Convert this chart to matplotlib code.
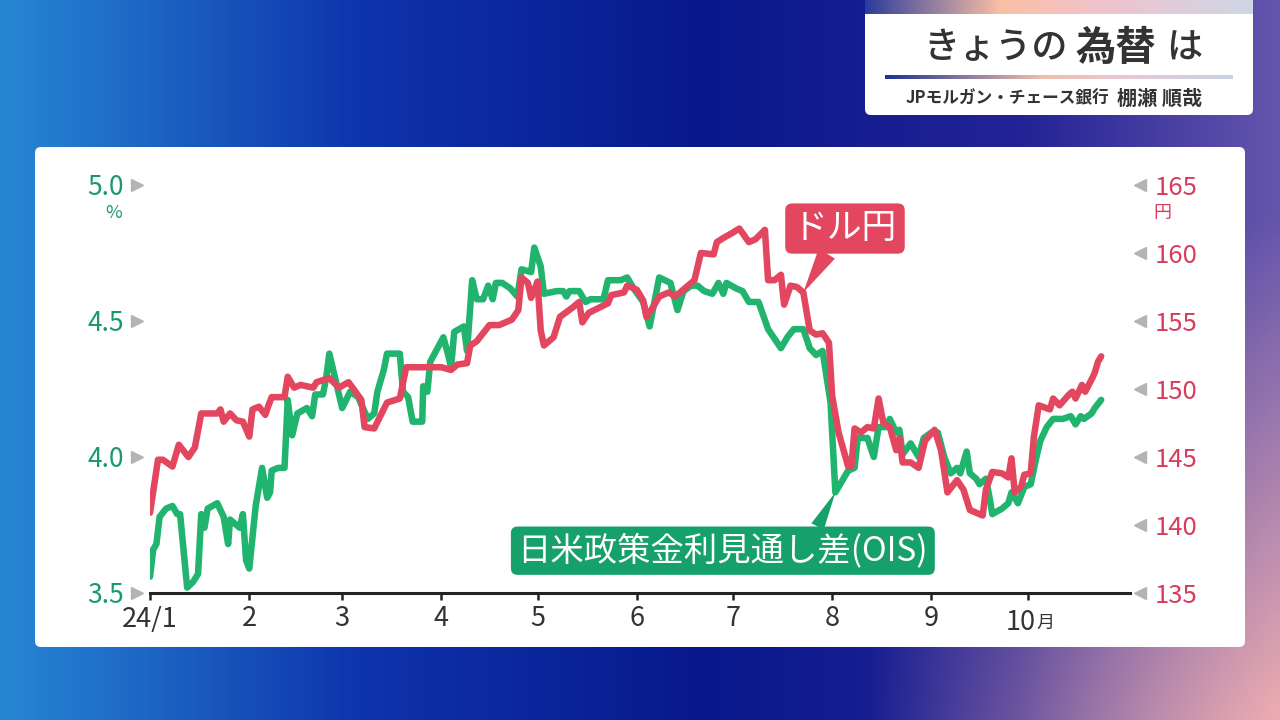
import numpy as np
import pandas as pd
import matplotlib
matplotlib.use("Agg")
import matplotlib.pyplot as plt
from matplotlib.patches import FancyBboxPatch

plt.rcParams['font.family'] = ['Noto Sans CJK JP', 'DejaVu Sans']

# ---------------------------------------------------------------------------
# data (x = days since 2024-01-01)
# ---------------------------------------------------------------------------
usd_day = [0, 2.5, 4, 7, 9, 12, 14, 16, 21, 22, 23, 25, 27, 29, 31, 32, 34, 36, 37, 38,
           42, 43, 45, 47, 51, 52, 56, 59, 62, 66, 67, 70, 74, 78, 80, 85, 91, 94, 96, 99,
           100, 102, 106, 109, 113, 115, 116, 118, 119, 121, 122, 123, 126, 128, 132, 134, 135, 137, 143, 144,
           148, 149, 152, 154, 155, 157, 159, 162, 164, 167, 170, 172, 176, 177, 179, 182, 184, 187, 189, 192,
           193, 195, 197, 198, 200, 202, 204, 206, 208, 210, 212, 213, 215, 218, 219, 220, 222, 224, 226, 227.5,
           229, 231, 233, 234, 235, 237.5, 240, 242, 245, 247, 249, 252, 254, 256, 258, 260, 261, 263, 266, 268,
           269, 270, 272, 273, 275, 276, 277.5, 281, 282, 284, 287, 288, 289, 291, 292, 294, 295, 296, 297]
usd_jpy = [140.9, 144.8, 144.8, 144.3, 145.9, 145.0, 145.7, 148.2, 148.2, 148.5, 147.6, 148.2, 147.7, 147.6, 146.5, 148.5, 148.7, 148.1, 148.8, 149.4,
           149.4, 150.9, 150.1, 150.3, 150.1, 150.5, 150.8, 150.1, 150.5, 149.2, 147.2, 147.1, 149.0, 149.3, 151.6, 151.6, 151.6, 151.4, 151.8, 151.9,
           153.2, 153.5, 154.7, 154.7, 155.1, 155.8, 158.2, 157.8, 156.7, 157.9, 154.3, 153.2, 153.8, 155.3, 156.0, 156.4, 154.9, 155.6, 156.3, 156.9,
           157.1, 157.6, 157.3, 156.5, 155.3, 156.0, 156.8, 157.1, 156.8, 157.4, 158.0, 160.0, 159.9, 160.8, 161.1, 161.5, 161.8, 160.8, 161.0, 161.7,
           158.0, 158.0, 158.4, 156.2, 157.6, 157.5, 157.1, 154.3, 154.0, 154.1, 153.4, 149.5, 146.8, 144.3, 144.3, 147.1, 146.8, 147.2, 147.1, 149.3,
           147.5, 147.2, 145.5, 146.4, 144.6, 144.6, 144.2, 146.2, 147.0, 145.5, 142.4, 143.3, 142.6, 141.1, 140.9, 140.7, 142.6, 143.9, 143.8, 143.5,
           144.9, 142.4, 142.8, 143.7, 143.8, 146.5, 148.8, 148.5, 149.3, 148.8, 149.6, 149.8, 149.3, 150.3, 149.8, 150.7, 151.2, 152.0, 152.4]

ois_day = [0, 1, 2, 3, 5, 7, 8.5, 9.4, 11.6, 13.4, 15, 16, 17, 18, 21, 23, 24.4, 25, 28, 29,
           30, 31, 33, 35, 36.6, 37.5, 38, 40, 42, 43, 44.4, 46, 49, 50.6, 51.6, 54, 55, 56, 58, 60,
           62.5, 65, 68, 70, 71, 73, 74, 78, 79, 80.6, 82, 85, 85.3, 86.6, 87.5, 91.6, 93, 94, 95, 98,
           99, 100.6, 102, 104, 105.6, 107, 108, 110, 112.5, 114.7, 116, 119, 120, 122, 123, 127, 129, 130, 131, 134,
           136, 137.5, 141.6, 143, 147, 149, 151, 154, 156, 159, 162.5, 164.7, 166.6, 169, 171, 173, 175.6, 177.5, 179, 180,
           183, 185, 187, 190, 193, 197, 199, 201, 204, 206, 208, 210, 212.5, 214, 218, 220, 221, 224, 226, 227.5,
           230, 231, 233, 234, 235, 237.5, 240, 241.6, 244, 246, 248, 250, 252, 253, 255, 256, 258, 259, 261, 262,
           263, 266, 268, 269, 271, 273, 275, 276.6, 278, 280, 282, 285, 287.5, 289, 290.6, 291.6, 294, 295, 297]
ois_spread = [3.56, 3.66, 3.68, 3.78, 3.81, 3.82, 3.79, 3.79, 3.52, 3.54, 3.57, 3.79, 3.74, 3.81, 3.83, 3.78, 3.68, 3.77, 3.74, 3.79,
              3.62, 3.59, 3.82, 3.96, 3.85, 3.87, 3.95, 3.96, 3.96, 4.21, 4.08, 4.16, 4.18, 4.15, 4.23, 4.23, 4.29, 4.38, 4.28, 4.18,
              4.24, 4.22, 4.14, 4.16, 4.24, 4.32, 4.38, 4.38, 4.24, 4.22, 4.13, 4.13, 4.26, 4.24, 4.35, 4.44, 4.38, 4.33, 4.46, 4.48,
              4.39, 4.65, 4.58, 4.58, 4.63, 4.58, 4.64, 4.64, 4.62, 4.59, 4.69, 4.68, 4.77, 4.70, 4.60, 4.61, 4.61, 4.59, 4.61, 4.61,
              4.57, 4.58, 4.58, 4.65, 4.65, 4.66, 4.62, 4.57, 4.48, 4.66, 4.64, 4.54, 4.61, 4.63, 4.63, 4.61, 4.60, 4.64, 4.60, 4.64,
              4.62, 4.61, 4.57, 4.57, 4.47, 4.40, 4.44, 4.47, 4.47, 4.40, 4.375, 4.39, 4.20, 3.87, 3.95, 3.96, 4.07, 4.07, 4.00, 4.11,
              4.11, 4.14, 4.09, 4.10, 4.01, 4.05, 4.00, 4.07, 4.09, 4.09, 4.00, 3.94, 3.96, 3.94, 4.02, 3.94, 3.92, 3.90, 3.92, 3.86,
              3.79, 3.81, 3.83, 3.87, 3.83, 3.89, 3.90, 3.99, 4.06, 4.11, 4.14, 4.14, 4.15, 4.12, 4.15, 4.14, 4.16, 4.18, 4.21]

month_labels = ["24/1", "2", "3", "4", "5", "6", "7", "8", "9", "10"]
left_ticks = [3.5, 4.0, 4.5, 5.0]
right_ticks = [135, 140, 145, 150, 155, 160, 165]

RED = "#e2475f"
GREEN = "#20b46e"
GREEN_TXT = "#1a9a6c"
GREEN_BOX = "#16a06a"
RED_TXT = "#d93c5a"
DARK = "#333333"


def hgrad(ax, extent, stops, colors, n=256):
    xs = np.linspace(0, 1, n)
    cols = np.array(colors) / 255
    row = np.stack([np.interp(xs, stops, cols[:, k]) for k in range(3)], -1)
    ax.imshow(row[None], extent=extent, aspect="auto", interpolation="bilinear", zorder=2)


fig = plt.figure(figsize=(12.8, 7.2), dpi=100)

# ---------------------------------------------------------------------------
# background (pixel coordinates)
# ---------------------------------------------------------------------------
bg = fig.add_axes([0, 0, 1, 1], zorder=-1)
bg.set_xlim(0, 1280)
bg.set_ylim(720, 0)
bg.axis("off")

H, W = 90, 160
xs = np.linspace(0, 1, W)
ys = np.linspace(0, 1, H)[:, None]
stops = [0, 0.28, 0.55, 0.8, 1.0]
cols = np.array([[38, 135, 212], [14, 52, 172], [8, 24, 140], [35, 35, 150], [100, 85, 172]]) / 255
base = np.stack([np.interp(xs, stops, cols[:, k]) for k in range(3)], -1)
img = np.repeat(base[None], H, 0)
pink = np.array([236, 172, 176]) / 255
w = np.clip((xs[None, :] - 0.68) / 0.32, 0, 1) * np.clip((ys - 0.3) / 0.7, 0, 1)
img = img * (1 - w[..., None]) + pink * w[..., None]
bg.imshow(img, extent=(0, 1280, 720, 0), aspect="auto", interpolation="bicubic", zorder=0)

bg.add_patch(FancyBboxPatch((35, 147), 1210, 500, boxstyle="round,pad=0,rounding_size=6",
                            fc="white", ec="none", zorder=1))

# title box
bg.add_patch(FancyBboxPatch((865, 6), 388, 109, boxstyle="round,pad=0,rounding_size=6",
                            fc="white", ec="none", zorder=1))
hgrad(bg, (865, 1253, 14, 0), [0, 0.35, 0.62, 1.0],
      [[45, 60, 155], [250, 192, 165], [240, 195, 205], [205, 215, 230]])
hgrad(bg, (885, 1233, 79, 75.5), [0, 0.45, 0.7, 1.0],
      [[30, 50, 150], [240, 190, 170], [232, 200, 215], [200, 212, 228]])
bg.text(923, 48, "きょうの", fontsize=26, color=DARK, ha="left", va="center", weight="medium", zorder=3)
bg.text(1075, 48, "為替", fontsize=29, color=DARK, ha="left", va="center", weight="bold", zorder=3)
bg.text(1166, 48, "は", fontsize=26, color=DARK, ha="left", va="center", weight="medium", zorder=3)
bg.text(906, 98, "JPモルガン・チェース銀行", fontsize=12, color=DARK, ha="left", va="center",
        weight="bold", zorder=3)
bg.text(1117, 98, "棚瀬 順哉", fontsize=14.5, color=DARK, ha="left", va="center",
        weight="bold", zorder=3)

# ---------------------------------------------------------------------------
# chart
# ---------------------------------------------------------------------------
ax = fig.add_axes([150 / 1280, 1 - 593 / 720, 980 / 1280, 408 / 720])
ax.set_facecolor("none")
ax2 = ax.twinx()
ax2.set_facecolor("none")

ax.plot(ois_day, ois_spread, color=GREEN, lw=4.7, solid_joinstyle="round", solid_capstyle="round")
ax2.plot(usd_day, usd_jpy, color=RED, lw=4.7, solid_joinstyle="round", solid_capstyle="round")

month_start = (pd.date_range("2024-01-01", periods=10, freq="MS") - pd.Timestamp("2024-01-01")).days
ax.set_xlim(0, 306)
ax.set_ylim(3.5, 5.0)
ax2.set_ylim(135, 165)

ax.set_xticks(month_start)
ax.set_xticklabels(month_labels[:-1] + [""])
ax.tick_params(axis="x", length=5, width=1.8, color="#222222", pad=4, labelsize=19.5, labelcolor=DARK)
ax.annotate(month_labels[-1], xy=(month_start[-1], 0), xycoords=("data", "axes fraction"),
            xytext=(6, -11.5), textcoords="offset points", ha="right", va="top",
            fontsize=19.5, color=DARK, annotation_clip=False)
ax.annotate("月", xy=(month_start[-1], 0), xycoords=("data", "axes fraction"),
            xytext=(6.5, -15), textcoords="offset points", ha="left", va="top",
            fontsize=13, color=DARK, annotation_clip=False)

ax.set_yticks(left_ticks)
ax.set_yticklabels([f"{v:.1f}" for v in left_ticks])
ax.tick_params(axis="y", length=0, pad=19, labelsize=19, labelcolor=GREEN_TXT)
ax2.set_yticks(right_ticks)
ax2.set_yticklabels([str(v) for v in right_ticks])
ax2.tick_params(axis="y", length=0, pad=18, labelsize=18.5, labelcolor=RED_TXT)

for s in ["top", "left", "right"]:
    ax.spines[s].set_visible(False)
for s in ax2.spines.values():
    s.set_visible(False)
ax.spines["bottom"].set_linewidth(2.2)
ax.spines["bottom"].set_color("#222222")

# small grey pointers next to the tick labels
ax.plot([-0.0133] * len(left_ticks), left_ticks, ls="none", marker=">", ms=8, color="#b4b4b4",
        transform=ax.get_yaxis_transform(), clip_on=False)
ax2.plot([1.0102] * len(right_ticks), right_ticks, ls="none", marker="<", ms=8, color="#b4b4b4",
         transform=ax2.get_yaxis_transform(), clip_on=False)

# units
ax.annotate("%", xy=(0, 1), xycoords="axes fraction", xytext=(-26.5, -20), textcoords="offset points",
            ha="center", va="center", fontsize=13, color=GREEN_TXT, annotation_clip=False)
ax2.annotate("円", xy=(1, 1), xycoords="axes fraction", xytext=(23.5, -20), textcoords="offset points",
             ha="center", va="center", fontsize=13, color=RED_TXT, annotation_clip=False)

# callouts
tip_x = 204
tip_y = np.interp(tip_x, usd_day, usd_jpy)
ax2.annotate("ドル円", xy=(tip_x, tip_y), xytext=(30, 46), textcoords="offset points",
             ha="center", va="center", fontsize=25, color="white",
             bbox=dict(boxstyle="round,pad=0.22,rounding_size=0.2", fc=RED, ec="none"),
             arrowprops=dict(arrowstyle="wedge,tail_width=0.55,shrink_factor=0.5", fc=RED, ec="none",
                             relpos=(0.38, 0.05), shrinkA=0, shrinkB=0))

g_x = 214
g_y = np.interp(g_x, ois_day, ois_spread)
ax.annotate("日米政策金利見通し差(OIS)", xy=(g_x, g_y), xytext=(-81, -42), textcoords="offset points",
            ha="center", va="center", fontsize=24, color="white",
            bbox=dict(boxstyle="round,pad=0.2,rounding_size=0.2", fc=GREEN_BOX, ec="none"),
            arrowprops=dict(arrowstyle="wedge,tail_width=0.42,shrink_factor=0.5", fc=GREEN_BOX, ec="none",
                            relpos=(0.72, 0.95), shrinkA=0, shrinkB=0))

fig.savefig("out.png", dpi=100)
